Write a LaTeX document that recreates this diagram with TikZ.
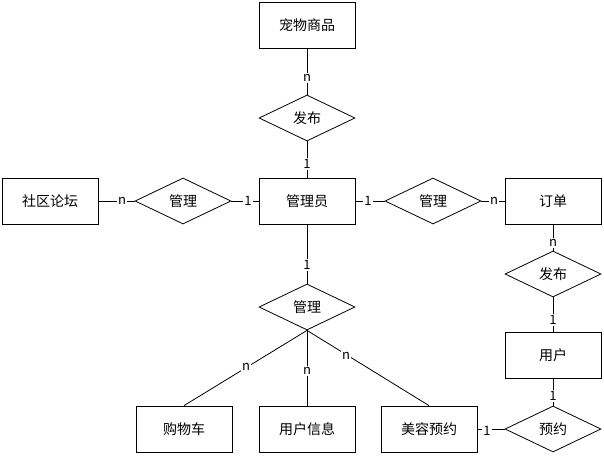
\documentclass[tikz,border=0pt]{standalone}
\usepackage{fontspec}
\setmainfont{Noto Sans CJK SC}
\usetikzlibrary{shapes.geometric}
\begin{document}
\begin{tikzpicture}[x=1pt,y=-1pt,
  ent/.style={draw,thick,minimum width=96pt,minimum height=46pt,inner sep=0pt,font=\fontsize{14}{16}\selectfont},
  rel/.style={draw,thick,diamond,aspect=2.1,minimum width=96pt,minimum height=46pt,inner sep=0pt,font=\fontsize{14}{16}\selectfont},
  lb/.style={fill=white,inner sep=1pt,font=\fontsize{13}{15}\selectfont},
  every path/.style={thick}]
\useasboundingbox (0,0) rectangle (604,456);
\node[ent] (pet) at (307,25) {宠物商品};
\node[ent] (forum) at (50,201) {社区论坛};
\node[ent] (admin) at (307,201) {管理员};
\node[ent] (order) at (553,201) {订单};
\node[ent] (user) at (553,355) {用户};
\node[ent] (cart) at (184,429) {购物车};
\node[ent] (uinfo) at (307,429) {用户信息};
\node[ent] (beauty) at (429,429) {美容预约};
\node[rel] (r1) at (307,118) {发布};
\node[rel] (r2) at (183,201) {管理};
\node[rel] (r3) at (433,201) {管理};
\node[rel] (r4) at (553,274) {发布};
\node[rel] (r5) at (307,307) {管理};
\node[rel] (r6) at (553,429) {预约};
\draw (pet) -- (r1); \draw (r1) -- (admin);
\draw (forum) -- (r2); \draw (r2) -- (admin);
\draw (admin) -- (r3); \draw (r3) -- (order);
\draw (order) -- (r4); \draw (r4) -- (user);
\draw (user) -- (r6); \draw (beauty) -- (r6);
\draw (admin) -- (r5);
\draw (r5.south) -- (cart.north);
\draw (r5.south) -- (uinfo.north);
\draw (r5.south) -- (beauty.north);
\node[lb] (l1) at (307,78) {n};
\node[lb] (l2) at (307,164) {1};
\node[lb] (l3) at (122,201) {n};
\node[lb] (l4) at (248,201) {1};
\node[lb] (l5) at (368,201) {1};
\node[lb] (l6) at (494,201) {n};
\node[lb] (l7) at (553,243) {n};
\node[lb] (l8) at (553,320) {1};
\node[lb] (l9) at (307,265) {1};
\node[lb] (l10) at (246,367) {n};
\node[lb] (l11) at (307,371) {n};
\node[lb] (l12) at (346,356) {n};
\node[lb] (l13) at (487,431) {1};
\node[lb] (l14) at (553,396) {1};
\end{tikzpicture}
\end{document}
